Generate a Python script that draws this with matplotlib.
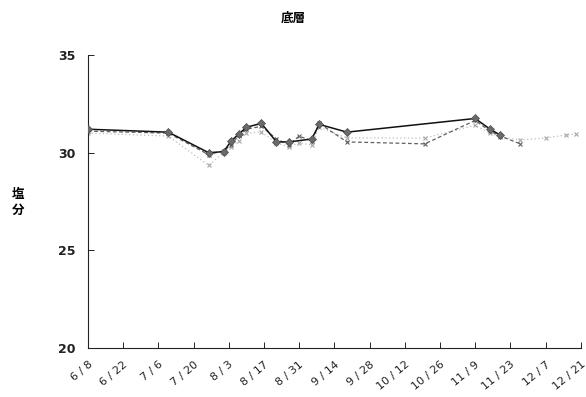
import matplotlib
matplotlib.use("Agg")
import matplotlib.pyplot as plt
import pandas as pd

plt.rcParams['font.family'] = ['Noto Sans CJK JP', 'DejaVu Sans']

year = 2000
tick_dates = ["6/8", "6/22", "7/6", "7/20", "8/3", "8/17", "8/31", "9/14",
              "9/28", "10/12", "10/26", "11/9", "11/23", "12/7", "12/21"]

dates_a = ["6/8", "7/10", "7/26", "8/1", "8/4", "8/7", "8/10", "8/16", "8/22",
           "8/27", "9/5", "9/8", "9/19", "11/9", "11/15", "11/19"]
salinity_a = [31.2, 31.05, 30.0, 30.05, 30.6, 30.95, 31.3, 31.5, 30.55,
              30.55, 30.7, 31.45, 31.05, 31.75, 31.2, 30.9]

dates_b = ["6/8", "7/10", "7/26", "8/1", "8/4", "8/7", "8/10", "8/16", "8/22",
           "8/27", "8/31", "9/5", "9/8", "9/19", "10/20", "11/9", "11/15",
           "11/19", "11/27"]
salinity_b = [31.1, 31.0, 29.9, 30.1, 30.4, 30.9, 31.2, 31.35, 30.7,
              30.4, 30.85, 30.6, 31.5, 30.55, 30.45, 31.65, 31.1, 30.85, 30.45]

dates_c = ["6/8", "7/10", "7/26", "8/1", "8/4", "8/7", "8/10", "8/16", "8/22",
           "8/27", "8/31", "9/5", "9/8", "9/19", "10/20", "11/9", "11/15",
           "11/19", "11/27", "12/7", "12/15", "12/19"]
salinity_c = [31.0, 30.85, 29.35, 30.0, 30.3, 30.6, 31.0, 31.05, 30.5,
              30.3, 30.5, 30.4, 31.3, 30.75, 30.75, 31.4, 31.0, 30.8,
              30.65, 30.75, 30.9, 30.95]


def to_dt(labels):
    return pd.to_datetime([f"{year}/{d}" for d in labels], format="%Y/%m/%d")


fig = plt.figure(figsize=(5.86, 3.97), dpi=100)
ax = fig.add_axes([0.150, 0.1234, 0.841, 0.7381])

ax.plot(to_dt(dates_c), salinity_c, color="#bdbdbd", lw=0.9, ls=(0, (1, 2)),
        marker="x", ms=3, mew=0.8, mec="#a8a8a8", zorder=2)
ax.plot(to_dt(dates_b), salinity_b, color="#606060", lw=0.9, ls=(0, (3, 2)),
        marker="x", ms=3.5, mew=0.8, mec="#606060", zorder=3)
ax.plot(to_dt(dates_a), salinity_a, color="#111111", lw=1.1, ls="-",
        marker="D", ms=4, mfc="#6a6a6a", mec="#4a4a4a", mew=0.5, zorder=4)

ax.set_ylim(20, 35)
ax.set_yticks([20, 25, 30, 35])
tick_dt = to_dt(tick_dates)
ax.set_xlim(tick_dt[0], tick_dt[-1])
ax.set_xticks(tick_dt)
ax.set_xticklabels([d.replace("/", " / ") for d in tick_dates],
                   rotation=40, ha="right", va="top", rotation_mode="anchor",
                   family="DejaVu Sans")

for side in ("top", "right"):
    ax.spines[side].set_visible(False)
for side in ("left", "bottom"):
    ax.spines[side].set_linewidth(0.8)
    ax.spines[side].set_color("#222222")

ax.tick_params(axis="both", direction="in", length=4, width=0.7, colors="#222222")
ax.tick_params(axis="y", labelsize=9, pad=9)
ax.tick_params(axis="x", labelsize=8, pad=8)
for lbl in ax.get_yticklabels():
    lbl.set_fontweight("bold")
    lbl.set_family("DejaVu Sans")

fig.text(0.5, 0.955, "底層", ha="center", va="center", fontsize=9, fontweight="bold")
fig.text(0.031, 0.49, "塩\n分", ha="center", va="center", fontsize=9,
         fontweight="bold", linespacing=1.3)

fig.savefig("out.png", dpi=100)
